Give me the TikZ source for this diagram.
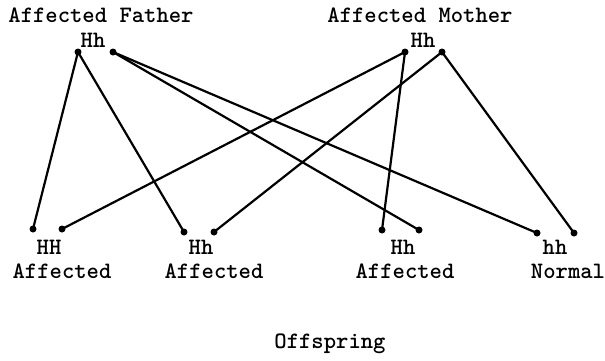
\documentclass[tikz,border=0pt]{standalone}
\begin{document}
\begin{tikzpicture}[x=1pt, y=-1pt,
    txt/.style={font=\fontsize{23.5}{25}\selectfont\ttfamily\bfseries, inner sep=0pt},
    pt/.style={circle, fill, inner sep=0pt, minimum size=7pt},
    lnk/.style={line width=2.2pt}]
    \useasboundingbox (0,0) rectangle (605,360);
    % 親
    \node[txt] (fa) at (101, 15) {Affected Father};
    \node[txt] (faG) at (93, 40) {Hh};
    \node[txt] (mo) at (420, 15) {Affected Mother};
    \node[txt] (moG) at (423, 40) {Hh};
    \node[pt] (fL) at (78, 52) {};
    \node[pt] (fR) at (113, 52) {};
    \node[pt] (mL) at (405, 52) {};
    \node[pt] (mR) at (442, 52) {};

    % 子
    \node[pt] (c1L) at (33, 229) {};
    \node[pt] (c1R) at (62, 229) {};
    \node[pt] (c2L) at (184, 232) {};
    \node[pt] (c2R) at (214, 232) {};
    \node[pt] (c3L) at (382, 230) {};
    \node[pt] (c3R) at (419, 230) {};
    \node[pt] (c4L) at (537, 233) {};
    \node[pt] (c4R) at (574, 233) {};
    \node[txt] (g1) at (49, 247) {HH};
    \node[txt] (g2) at (201, 247) {Hh};
    \node[txt] (g3) at (403, 247) {Hh};
    \node[txt] (g4) at (555, 247) {hh};
    \node[txt] (p1) at (62, 271) {Affected};
    \node[txt] (p2) at (214, 271) {Affected};
    \node[txt] (p3) at (405, 271) {Affected};
    \node[txt] (p4) at (568, 271) {Normal};
    \node[txt] (off) at (330, 344) {Offspring};

    % エッジ
    \draw[lnk] (fL.center) -- (c1L.center);
    \draw[lnk] (fL.center) -- (c2L.center);
    \draw[lnk] (fR.center) -- (c3R.center);
    \draw[lnk] (fR.center) -- (c4L.center);
    \draw[lnk] (mL.center) -- (c1R.center);
    \draw[lnk] (mL.center) -- (c3L.center);
    \draw[lnk] (mR.center) -- (c2R.center);
    \draw[lnk] (mR.center) -- (c4R.center);
\end{tikzpicture}
\end{document}
